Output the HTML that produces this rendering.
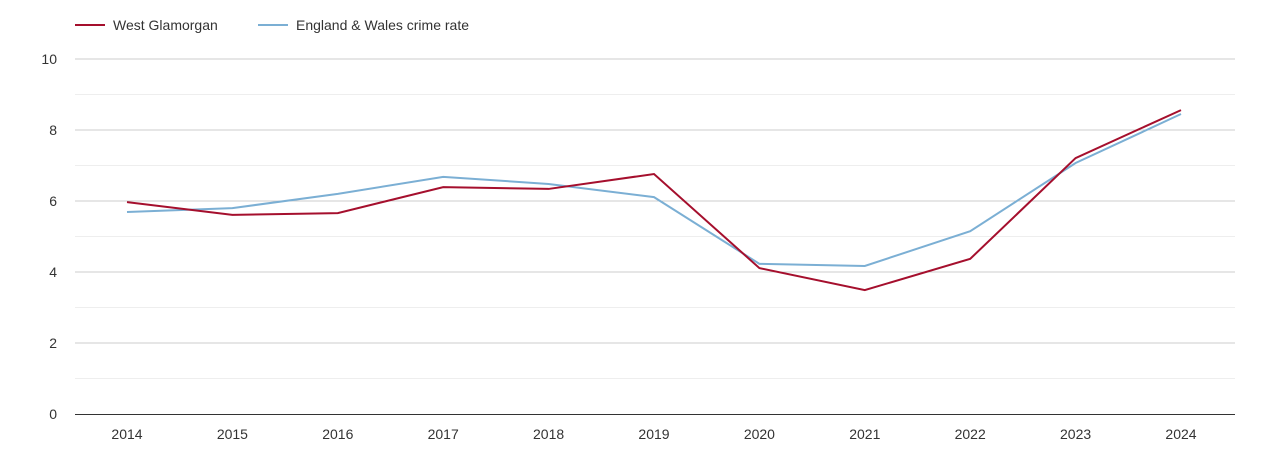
<!DOCTYPE html>
<html><head><meta charset="utf-8"><style>
body{margin:0;background:#fff;font-family:"Liberation Sans",sans-serif;}
svg text{font-family:"Liberation Sans",sans-serif;}
</style></head><body>
<svg width="1270" height="450" id="chart"></svg>
<script>
const years=[2014,2015,2016,2017,2018,2019,2020,2021,2022,2023,2024];
const westGlamorgan=[5.97,5.61,5.66,6.39,6.34,6.76,4.11,3.49,4.37,7.21,8.56];
const englandWales=[5.69,5.80,6.20,6.68,6.48,6.11,4.23,4.17,5.15,7.07,8.45];
const yTicks=[0,2,4,6,8,10];
const NS="http://www.w3.org/2000/svg";
const svg=document.getElementById('chart');
const x=i=>127+i*(1181-127)/(years.length-1);
const y=v=>414-v*35.5;
function mk(t,a){const e=document.createElementNS(NS,t);for(const k in a)e.setAttribute(k,a[k]);svg.appendChild(e);return e;}
for(let v=1;v<=10;v++){const g=mk('line',{x1:75,x2:1235,y1:y(v),y2:y(v),stroke:v%2?'#eeeeee':'#cccccc','stroke-width':1});

}
yTicks.forEach(v=>{const t=mk('text',{x:57,y:y(v)+5,'text-anchor':'end','font-size':14,fill:'#333'});t.textContent=v;

});
const ax=mk('line',{x1:75,x2:1235,y1:414.5,y2:414.5,stroke:'#333','stroke-width':1});


years.forEach((yr,i)=>{const t=mk('text',{x:x(i),y:439,'text-anchor':'middle','font-size':14,fill:'#333'});t.textContent=yr;

});
function line(arr,col,name){const p=mk('polyline',{points:arr.map((v,i)=>x(i)+','+y(v)).join(' '),fill:'none',stroke:col,'stroke-width':2});

}
line(englandWales,'#7bafd4','england-wales-line');
line(westGlamorgan,'#a50f2d','west-glamorgan-line');
function leg(x0,col,label,name){const l=mk('line',{x1:x0,x2:x0+30,y1:25,y2:25,stroke:col,'stroke-width':2});


const t=mk('text',{x:x0+38,y:30,'font-size':14,fill:'#333'});t.textContent=label;

}
leg(75,'#a50f2d','West Glamorgan','legend-west-glamorgan');
leg(258,'#7bafd4','England & Wales crime rate','legend-england-wales');
</script>
</body></html>
